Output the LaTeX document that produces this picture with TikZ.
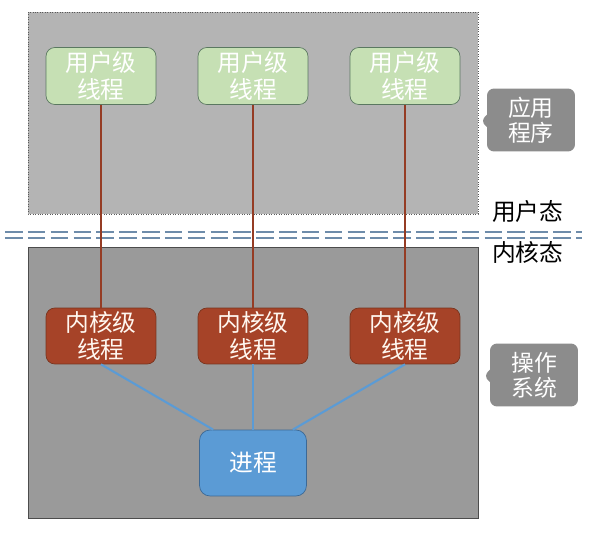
\documentclass[tikz,border=0pt]{standalone}
\usepackage{fontspec}
\setmainfont{Noto Sans CJK SC}
\usepackage{xcolor}
\usetikzlibrary{arrows.meta, positioning, calc, shapes.callouts}

\definecolor{userbg}{RGB}{180,180,180}
\definecolor{kernbg}{RGB}{154,154,154}
\definecolor{ugreen}{RGB}{198,224,180}
\definecolor{ugreenline}{RGB}{90,120,96}
\definecolor{krust}{RGB}{166,67,40}
\definecolor{krustline}{RGB}{120,52,30}
\definecolor{pblue}{RGB}{91,155,213}
\definecolor{pblueline}{RGB}{60,105,150}
\definecolor{tagbg}{RGB}{140,140,140}
\definecolor{sepline}{RGB}{110,140,170}

\begin{document}
\begin{tikzpicture}[x=0.02cm, y=-0.02cm, font=\fontsize{13.5}{15}\selectfont,
    userthr/.style={draw=ugreenline, fill=ugreen, rounded corners=5pt, minimum width=2.2cm,
        minimum height=1.14cm, align=center, text=white, inner sep=1pt},
    kernthr/.style={draw=krustline, fill=krust, rounded corners=5pt, minimum width=2.2cm,
        minimum height=1.12cm, align=center, text=white!94!orange, inner sep=1pt},
    procbox/.style={draw=pblueline, fill=pblue, rounded corners=6pt, minimum width=2.14cm,
        minimum height=1.32cm, text=white},
    tag/.style={rectangle callout, fill=tagbg, rounded corners=4pt, minimum width=1.76cm,
        minimum height=1.26cm, align=center, text=white, inner sep=1pt,
        callout pointer width=7pt, font=\fontsize{13}{15}\selectfont},
    uline/.style={draw=krust!90!black, line width=1.5pt},
    kline/.style={draw=pblue, line width=1.2pt}]

\useasboundingbox (0,0) rectangle (610,535);

% User space and kernel space areas
\draw[densely dotted, gray!70!black, fill=userbg] (28,12) rectangle (478,214);
\draw[gray!60!black, fill=kernbg] (28,247) rectangle (478,518);

% Separator
\draw[sepline, line width=1.4pt, dash pattern=on 10pt off 3pt] (5,232) -- (582,232);
\draw[sepline, line width=1.4pt, dash pattern=on 10pt off 3pt] (5,238) -- (582,238);
\node[anchor=west] (ustate) at (486,211) {用户态};
\node[anchor=west] (kstate) at (486,252) {内核态};

% User level threads
\node[userthr] (u1) at (101,76) {用户级\\[0pt]线程};
\node[userthr] (u2) at (253,76) {用户级\\[0pt]线程};
\node[userthr] (u3) at (405,76) {用户级\\[0pt]线程};

% Kernel level threads
\node[kernthr] (k1) at (101,336) {内核级\\[0pt]线程};
\node[kernthr] (k2) at (253,336) {内核级\\[0pt]线程};
\node[kernthr] (k3) at (405,336) {内核级\\[0pt]线程};

% Process
\node[procbox] (proc) at (253,463) {进程};

% Mapping lines
\draw[uline] (u1.south) -- (k1.north);
\draw[uline] (u2.south) -- (k2.north);
\draw[uline] (u3.south) -- (k3.north);
\draw[kline] (k1.south) -- ([xshift=8pt]proc.north west);
\draw[kline] (k2.south) -- (proc.north);
\draw[kline] (k3.south) -- ([xshift=-8pt]proc.north east);

% Side tags
\node[tag, callout absolute pointer={(480,121)}] (apptag) at (531,120) {应用\\[-1pt]程序};
\node[tag, callout absolute pointer={(483,376)}] (ostag) at (534,375) {操作\\[-1pt]系统};

\end{tikzpicture}
\end{document}
